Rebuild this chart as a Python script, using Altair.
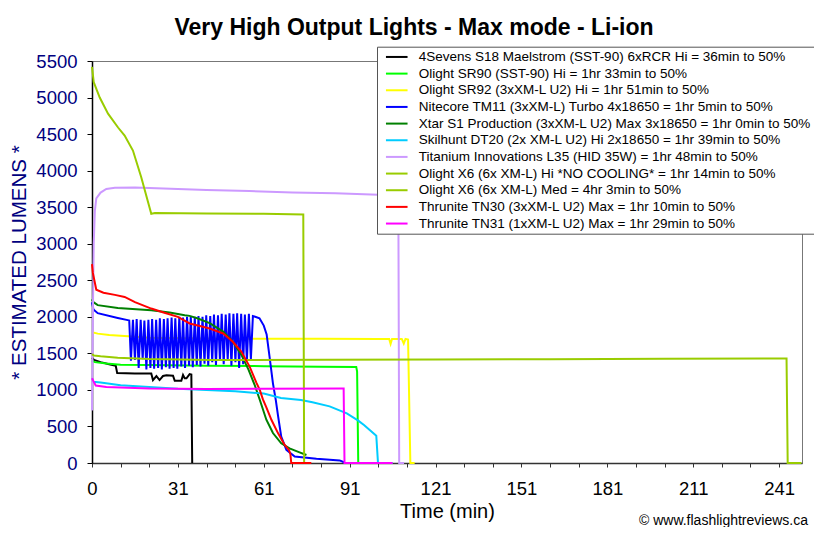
import altair as alt
import pandas as pd

TITLE = "Very High Output Lights - Max mode - Li-ion"
X_TITLE = "Time (min)"
Y_TITLE = "* ESTIMATED LUMENS *"
CREDIT = "\u00a9 www.flashlightreviews.ca"

NAMES = [
    "4Sevens S18 Maelstrom (SST-90) 6xRCR Hi = 36min to 50%",
    "Olight SR90 (SST-90) Hi = 1hr 33min to 50%",
    "Olight SR92 (3xXM-L U2) Hi = 1hr 51min to 50%",
    "Nitecore TM11 (3xXM-L) Turbo 4x18650 = 1hr 5min to 50%",
    "Xtar S1 Production (3xXM-L U2) Max 3x18650 = 1hr 0min to 50%",
    "Skilhunt DT20 (2x XM-L U2) Hi 2x18650 = 1hr 39min to 50%",
    "Titanium Innovations L35 (HID 35W) = 1hr 48min to 50%",
    "Olight X6 (6x XM-L) Hi *NO COOLING* = 1hr 14min to 50%",
    "Olight X6 (6x XM-L) Med = 4hr 3min to 50%",
    "Thrunite TN30 (3xXM-L U2) Max = 1hr 10min to 50%",
    "Thrunite TN31 (1xXM-L U2) Max = 1hr 29min to 50%",
]
COLORS = ["#000000", "#00ff00", "#ffff00", "#0000ff", "#008000", "#00ccff",
          "#cc99ff", "#99cc00", "#99cc00", "#ff0000", "#ff00ff"]

Y_TICKS = [0, 500, 1000, 1500, 2000, 2500, 3000, 3500, 4000, 4500, 5000, 5500]
X_TICKS = [0, 10, 20, 30, 40, 50, 60, 70, 80, 90, 100, 110, 120, 130, 140, 150,
           160, 170, 180, 190, 200, 210, 220, 230, 240]
X_LABEL_AT = [0, 30, 60, 90, 120, 150, 180, 210, 240]
X_LABELS = ["0", "31", "61", "91", "121", "151", "181", "211", "241"]

# 4Sevens S18
S18_T = [0, 0.7, 3, 6, 8.3, 8.8, 15, 20.7, 21.3, 22.5, 23.6, 24.8, 26.0, 28.3, 28.9,
         31.2, 31.8, 32.4, 33.0, 34.1, 34.7, 35.0]
S18_L = [1440, 1410, 1380, 1350, 1330, 1230, 1225, 1225, 1135, 1190, 1135, 1190, 1200,
         1195, 1126, 1126, 1204, 1158, 1158, 1217, 1210, 0]
# Olight SR90
SR90_T = [0, 1, 5, 10, 20, 40, 60, 80, 92.3, 92.6, 93.0]
SR90_L = [1400, 1380, 1360, 1345, 1340, 1330, 1325, 1318, 1315, 1250, 0]
# Olight SR92
SR92_T = [0, 2, 6, 12.6, 20, 40, 60, 80, 100, 103.8, 104.3, 104.8, 106, 108.2, 108.9,
          109.5, 110.4, 111.2, 112.7]
SR92_L = [1790, 1770, 1750, 1735, 1715, 1705, 1700, 1700, 1698, 1698, 1630, 1698, 1698,
          1698, 1635, 1698, 1690, 0, 0]
# Nitecore TM11
TM11_T = [0, 0.5, 2, 9, 12.5,
          13.0, 13.6, 14.3, 15.0, 15.6, 16.3, 17.0, 17.7, 18.3, 19.0, 19.7, 20.4, 21.0,
          21.7, 22.4, 23.1, 23.7, 24.4, 25.1, 25.8, 26.4, 27.1, 27.8, 28.5, 29.1, 29.8,
          30.5, 31.2, 31.8, 32.5, 33.2, 33.9, 34.5, 35.2, 35.9, 36.6, 37.2, 37.9, 38.6,
          39.3, 39.9, 40.6, 41.3, 42.0, 42.6, 43.3, 44.0, 44.7, 45.3, 46.0, 46.7, 47.4,
          48.0, 48.7, 49.4, 50.1, 50.7, 51.4, 52.1, 52.8, 53.4, 54.1, 54.8, 55.5, 56.2,
          57.0, 58.5, 60.0, 61.0, 62.0, 63.2, 64.2, 65.0, 66.1, 67.9, 70.8, 78.4, 86.5,
          87.7, 88.0]
TM11_L = [2200, 2100, 2050, 1985, 1955,
          1950, 1400, 1960, 1410, 1970, 1300, 1960, 1420, 1950, 1280, 1960, 1300, 1970,
          1290, 1960, 1300, 1980, 1280, 1970, 1310, 1980, 1290, 1990, 1300, 1980, 1290,
          2000, 1320, 1990, 1300, 2000, 1330, 2010, 1310, 2000, 1340, 2010, 1320, 2000,
          1360, 2020, 1330, 2010, 1380, 2030, 1340, 2020, 1400, 2040, 1350, 2030, 1410,
          2050, 1330, 2040, 1380, 2050, 1300, 2040, 1350, 2030, 1400, 2040, 1420, 2010,
          2000, 1980, 1880, 1760, 1460, 1090, 860, 640, 360, 180, 90, 58, 35,
          15, 0]
# Xtar S1
XTAR_T = [0, 0.5, 2, 9, 20.7, 27.1, 32.4, 34.1, 37, 41.1, 45.8, 49.2, 52.2, 54.7, 56.8,
          58.6, 60.9, 63.2, 66.1, 69, 72.5, 74.9]
XTAR_L = [2240, 2200, 2160, 2122, 2090, 2058, 2022, 2013, 1977, 1913, 1798, 1661, 1479,
          1274, 1070, 865, 592, 410, 270, 200, 146, 110]
# Skilhunt DT20
DT20_T = [0, 0.5, 3, 10, 20, 30, 40, 50, 60, 66, 73, 77, 83, 89, 93, 95, 97, 99.3, 99.9, 105]
DT20_L = [1160, 1110, 1100, 1065, 1040, 1015, 1000, 980, 950, 890, 862, 830, 775, 680,
          580, 519, 450, 374, 0, 0]
# Titanium Innovations L35
L35_T = [0, 0.3, 0.6, 1.0, 1.5, 3, 5, 8, 15, 25, 40, 55, 70, 85, 100, 107.0, 107.3, 109]
L35_L = [720, 2000, 3000, 3450, 3620, 3700, 3750, 3765, 3770, 3755, 3735, 3720, 3700,
         3690, 3670, 3660, 0, 0]
# Olight X6 Hi
X6H_T = [0, 0.6, 2.7, 5.6, 9.1, 11.4, 14.3, 17.2, 20.7, 22, 40, 60, 73.8, 74.1]
X6H_L = [5420, 5210, 5000, 4780, 4590, 4480, 4275, 3910, 3410, 3420, 3415, 3410, 3400, 0]
# Olight X6 Med
X6M_T = [0, 0.7, 3, 9, 20, 42, 80, 120, 160, 200, 242.6, 243.0, 247.8]
X6M_L = [1490, 1470, 1460, 1440, 1422, 1410, 1412, 1415, 1420, 1425, 1430, 0, 0]
# Thrunite TN30
TN30_T = [0, 0.3, 1.5, 4, 8, 11.4, 15, 20.7, 25, 30, 34.1, 38, 41.1, 45.8, 49.2, 52.2,
          55.1, 57.4, 58.6, 59.7, 60.9, 62.7, 65, 67.3, 68.8, 69.3, 69.6, 76.6]
TN30_L = [2720, 2600, 2370, 2330, 2300, 2272, 2200, 2113, 2060, 2000, 1909, 1870, 1841,
          1772, 1658, 1521, 1316, 1100, 1000, 870, 760, 588, 406, 246, 178, 120, 0, 0]
# Thrunite TN31
TN31_T = [0, 0.5, 1.3, 5, 10, 20, 40, 60, 87.5, 87.9, 88.2, 105]
TN31_L = [1160, 1120, 1060, 1040, 1034, 1020, 1012, 1015, 1020, 1020, 0, 0]

SERIES = [
    (NAMES[0], S18_T, S18_L), (NAMES[1], SR90_T, SR90_L), (NAMES[2], SR92_T, SR92_L),
    (NAMES[3], TM11_T, TM11_L), (NAMES[4], XTAR_T, XTAR_L), (NAMES[5], DT20_T, DT20_L),
    (NAMES[6], L35_T, L35_L), (NAMES[7], X6H_T, X6H_L), (NAMES[8], X6M_T, X6M_L),
    (NAMES[9], TN30_T, TN30_L), (NAMES[10], TN31_T, TN31_L),
]

rows = []
for name, ts, ls in SERIES:
    for i, (t, l) in enumerate(zip(ts, ls)):
        rows.append({"series": name, "t": t, "lumens": l, "k": i})
df = pd.DataFrame(rows)

label_expr = "''"
for pos, lab in reversed(list(zip(X_LABEL_AT, X_LABELS))):
    label_expr = f"datum.value == {pos} ? '{lab}' : ({label_expr})"

FONT = "Liberation Sans"

lines = alt.Chart(df).mark_line(strokeWidth=2).encode(
    x=alt.X("t:Q", title=X_TITLE,
            scale=alt.Scale(domain=[0, 248], nice=False, zero=False),
            axis=alt.Axis(values=X_TICKS, labelExpr=label_expr, grid=False,
                          labelFont=FONT, labelFontSize=18.5, labelColor="black",
                          labelPadding=12, tickSize=4, tickColor="#333",
                          domainColor="#333", domainWidth=1.5,
                          titleFont=FONT, titleFontSize=20, titleFontWeight="normal",
                          titleColor="black", titlePadding=4, labelFlush=False,
                          labelOverlap=False)),
    y=alt.Y("lumens:Q", title=Y_TITLE,
            scale=alt.Scale(domain=[0, 5500], nice=False),
            axis=alt.Axis(values=Y_TICKS, format="d", grid=False, labelFont=FONT,
                          labelFontSize=18.5, labelColor="#000080", labelPadding=10,
                          tickSize=5, tickColor="black", domainColor="black",
                          domainWidth=1.5, titleFont=FONT, titleFontSize=20.5,
                          titleFontWeight="normal", titleColor="#000080",
                          titlePadding=6)),
    color=alt.Color("series:N", scale=alt.Scale(domain=NAMES, range=COLORS),
                    legend=alt.Legend(title=None, orient="none", legendX=285,
                                      legendY=-14.3, symbolType="M-2.7,0H2.7",
                                      symbolSize=64, symbolStrokeWidth=2,
                                      symbolOffset=9.5, labelOffset=15.3,
                                      labelFont=FONT, labelFontSize=13.5,
                                      labelColor="black", labelLimit=700,
                                      rowPadding=1.66, padding=3.5,
                                      fillColor="white", strokeColor="#555")),
    order=alt.Order("k:Q"),
)

credit = alt.Chart(alt.Data(values=[{"c": CREDIT}])).mark_text(
    align="right", baseline="middle", font=FONT, fontSize=14, color="black"
).encode(x=alt.value(716), y=alt.value(460), text="c:N")

chart = alt.layer(lines, credit).properties(
    width=710, height=402,
    title=alt.TitleParams(TITLE, font=FONT, fontSize=23, fontWeight="bold",
                          color="black", anchor="middle", dx=-33, offset=6),
    autosize=alt.AutoSizeParams(type="none"),
    padding={"left": 84, "top": 53, "right": 12, "bottom": 64},
).configure(background="white").configure_view(stroke="#777777", strokeWidth=1)

chart.save("out.html", embed_options={"renderer": "svg", "actions": False})
